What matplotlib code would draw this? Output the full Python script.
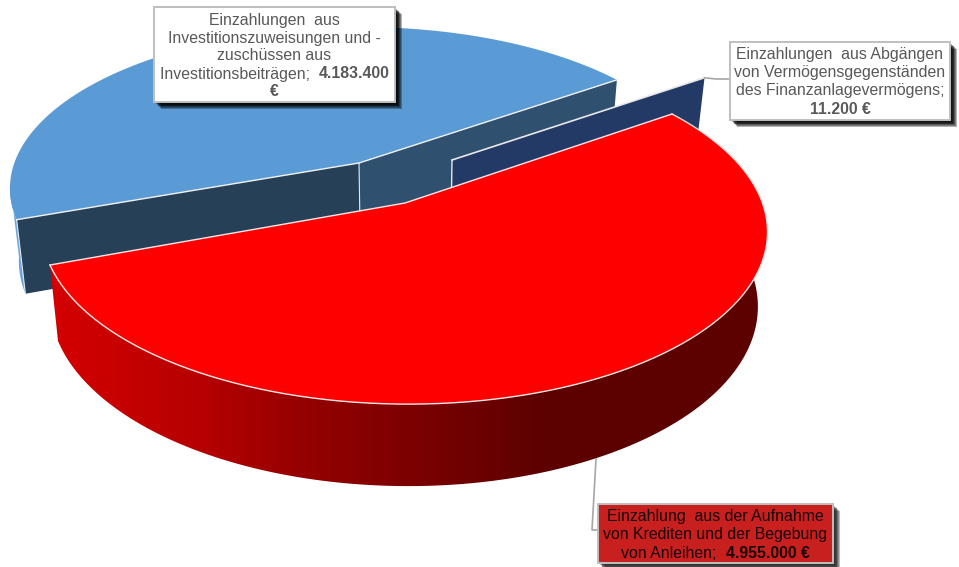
import numpy as np
import matplotlib
matplotlib.use('Agg')
import matplotlib.pyplot as plt
from matplotlib.colors import LinearSegmentedColormap
from matplotlib.patches import Polygon, Rectangle

plt.rcParams['font.family'] = ['Liberation Sans', 'DejaVu Sans']

# Einzahlungen in Euro
werte_rot = 4955000
werte_blau = 4183400
werte_dunkel = 11200

zeilen_blau = [
    [('Einzahlungen  aus', False)],
    [('Investitionszuweisungen und -', False)],
    [('zuschüssen aus', False)],
    [('Investitionsbeiträgen;  ', False), ('4.183.400', True)],
    [('€', True)],
]
zeilen_dunkel = [
    [('Einzahlungen  aus Abgängen', False)],
    [('von Vermögensgegenständen', False)],
    [('des Finanzanlagevermögens;', False)],
    [('11.200 €', True)],
]
zeilen_rot = [
    [('Einzahlung  aus der Aufnahme', False)],
    [('von Krediten und der Begebung', False)],
    [('von Anleihen;  ', False), ('4.955.000 €', True)],
]

gesamt = werte_rot + werte_blau + werte_dunkel
winkel_rot = 2 * np.pi * werte_rot / gesamt
winkel_dunkel = 2 * np.pi * werte_dunkel / gesamt
start = np.radians(-75)


def homographie(von, nach):
    zeilen, rechts = [], []
    for (u, v), (x, y) in zip(von, nach):
        zeilen.append([u, v, 1, 0, 0, 0, -u * x, -v * x])
        zeilen.append([0, 0, 0, u, v, 1, -u * y, -v * y])
        rechts += [x, y]
    h = np.linalg.solve(np.array(zeilen, float), np.array(rechts, float))
    return np.append(h, 1).reshape(3, 3)


def kreis(t):
    return np.column_stack([np.cos(t), np.sin(t)])


# Perspektive der Scheibe: Kanten der roten Scheibe und ihre Verlaengerungen
t1, t2 = start, start + winkel_rot
H = homographie(
    kreis(np.array([t1, t2, t1 + np.pi, t2 - np.pi])),
    [(672, 114), (50, 265), (84.7, 310.6), (722.6, 148)],
)
H_inv = np.linalg.inv(H)


def proj(p):
    q = np.column_stack([p, np.ones(len(p))]) @ H.T
    return q[:, :2] / q[:, 2:]


def scheibe(x, y):
    q = H_inv @ np.array([x, y, 1.0])
    return q[:2] / q[2]


def unten(p):
    d = 76 + (p[:, 1] - 265) * 0.043
    k = np.where(p[:, 0] < 410, 0.0222, 0.027)
    return np.column_stack([p[:, 0] + (410 - p[:, 0]) * k, p[:, 1] + d])


def bogen(a, b, mitte, radius=1.0):
    t = np.linspace(a, b, max(int(abs(b - a) * 60), 2))
    return proj(radius * kreis(t) + mitte)


fig = plt.figure(figsize=(9.59, 5.67), dpi=100, facecolor='white')
ax = fig.add_axes([0, 0, 1, 1])
ax.set_axis_off()

# blaue Scheibe
spitze = np.array([[359.0, 163.0]])
m = scheibe(*spitze[0])
rand = bogen(t2, start + 2 * np.pi - winkel_dunkel, m, 0.993)
o = np.vstack([rand[:1], spitze])
u = unten(o)
ax.fill(*np.vstack([rand[:14], unten(rand[:14])[::-1]]).T, color='#6fa5d8', lw=0)
ax.fill(*np.vstack([o, u[::-1]]).T, color='#264057', lw=0)
o = np.vstack([spitze, rand[-1:]])
u = unten(o)
ax.fill(*np.vstack([o, u[::-1]]).T, color='#2f506f', lw=0)
ax.plot(*np.vstack([rand[:1], unten(rand[:1])]).T, color='#dbe8f5', lw=0.8, zorder=1)
ax.plot(*np.vstack([spitze, unten(spitze)]).T, color='#dbe8f5', lw=0.8, zorder=1)
ax.fill(*np.vstack([spitze, rand]).T, color='#5b9bd5', lw=0)
ax.plot(*np.vstack([rand[:1], spitze, rand[-1:]]).T, color='#f2f2f2', lw=1, zorder=1)

# dunkle Scheibe
spitze = np.array([[452.0, 160.0]])
m = scheibe(*spitze[0])
rand = bogen(start - winkel_dunkel, start, m)
o = np.vstack([spitze, rand[-1:]])
u = unten(o)
ax.fill(*np.vstack([o, u[::-1]]).T, color='#243a66', lw=0)
ax.plot(*np.vstack([spitze, unten(spitze)]).T, color='#e8e8e8', lw=1, zorder=1)
ax.plot(*np.vstack([spitze, rand[-1:]]).T, color='#e8e8e8', lw=1.2, zorder=1)
spitze_dunkel = rand[-1]

# rote Scheibe, Wand als Verlauf in x-Richtung
rand = bogen(t1, t2, np.zeros(2))
boden = unten(rand)
farbe_x = np.array([50, 200, 300, 420, 550, 770])
farbe_r = [212, 182, 150, 122, 92, 92]
lage = (farbe_x - farbe_x[0]) / (farbe_x[-1] - farbe_x[0])
verlauf = LinearSegmentedColormap.from_list(
    'wand', [(p, (r / 255, 0, 0)) for p, r in zip(lage, farbe_r)])
bild = ax.imshow(np.linspace(0, 1, 512)[None, :], cmap=verlauf, aspect='auto', zorder=1,
                 extent=[farbe_x[0], farbe_x[-1], 500, 100])
huelle = Polygon(np.vstack([rand, boden[::-1]]), transform=ax.transData, fc='none', ec='none')
ax.add_patch(huelle)
bild.set_clip_path(huelle)
ax.fill(*np.vstack([[[405, 203]], rand]).T, color='#ff0000', lw=0)
ax.plot(*rand.T, color='#f4e6e6', lw=1, zorder=1)
ax.plot([rand[0, 0], 405, rand[-1, 0]], [rand[0, 1], 203, rand[-1, 1]], color='#f4e6e6', lw=1, zorder=1)

# Fuehrungslinien
ax.plot([spitze_dunkel[0], 716, 730], [spitze_dunkel[1], 79, 79], color='#a6a6a6', lw=1.2)
ax.plot([596, 592, 598], [459, 530, 530], color='#a6a6a6', lw=1.2)

ax.set_xlim(0, 959)
ax.set_ylim(567, 0)


def beschriftung(x0, y0, x1, y1, zeilen, fuellung, rahmen, textfarbe, schatten, y_text, abstand):
    for k in range(7):
        ax.add_patch(Rectangle((x0 + 2 + k * 0.8, y0 + 2 + k * 0.8), x1 - x0, y1 - y0,
                               fc=schatten, ec='none', alpha=0.3, zorder=5))
    ax.add_patch(Rectangle((x0, y0), x1 - x0, y1 - y0, fc=fuellung, ec=rahmen, lw=1.4, zorder=6))
    rnd = fig.canvas.get_renderer()
    mitte = (x0 + x1) / 2
    for n, zeile in enumerate(zeilen):
        y = y_text + n * abstand
        stuecke = [ax.text(0, y, s, fontsize=GROESSE, color=textfarbe, va='center', ha='left',
                           fontweight='bold' if b else 'normal', zorder=7) for s, b in zeile]
        # Breiten messen, dann die Zeile zentrieren
        breiten = []
        for (s, b), t in zip(zeile, stuecke):
            probe = ax.text(0, 0, s.replace(' ', '\u00a0') + '|', fontsize=GROESSE,
                            fontweight='bold' if b else 'normal')
            strich = ax.text(0, 0, '|', fontsize=GROESSE, fontweight='bold' if b else 'normal')
            breiten.append(probe.get_window_extent(rnd).width - strich.get_window_extent(rnd).width)
            probe.remove()
            strich.remove()
        x = mitte - sum(breiten) / 2
        for t, w in zip(stuecke, breiten):
            t.set_x(x)
            x += w


GROESSE = 11.45
beschriftung(154, 7, 395, 102, zeilen_blau, 'white', '#bfbfbf', '#595959', 'black', 20, 18)
beschriftung(730, 42, 950, 120, zeilen_dunkel, 'white', '#bfbfbf', '#595959', 'black', 55, 18)
beschriftung(598, 504, 833, 563, zeilen_rot, '#c8201f', '#bfbfbf', '#1a0505', '#222222', 517, 18)

fig.savefig('out.png', dpi=100, facecolor='white')
